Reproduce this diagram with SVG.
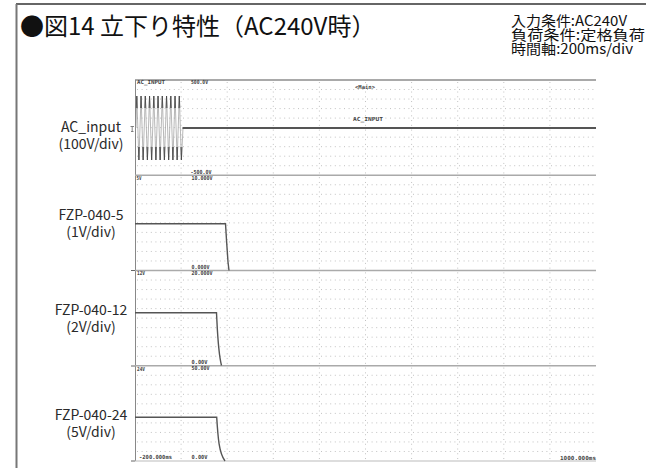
<svg xmlns="http://www.w3.org/2000/svg" width="646" height="468" viewBox="0 0 646 468">
<style>
.jp{font-family:"Noto Sans CJK JP","Noto Sans",sans-serif;fill:#111}
.cond{font-family:"Noto Sans CJK JP","Noto Sans",sans-serif;fill:#111;font-size:14px}
.lbl{font-family:"Noto Sans CJK JP","Noto Sans",sans-serif;font-size:14px;fill:#2a2a2a;text-anchor:middle}
.sc{font-family:"DejaVu Sans Mono","Liberation Mono",monospace;font-size:5.6px;font-weight:bold;fill:#444}
.grid{fill:none;stroke:#c2c2c2;stroke-width:1}
.sep{stroke:#aaa;stroke-width:1.6;fill:none}
.tr{fill:none;stroke:#555;stroke-width:1.4}
</style>
<rect width="646" height="468" fill="#fff"/>
<g id="frame">
<line x1="16" y1="4" x2="646" y2="4" stroke="#333" stroke-width="1.5"/>
<line x1="16.5" y1="4" x2="16.5" y2="468" stroke="#777" stroke-width="2"/>
</g>
<g id="title">
<text class="jp" x="20" y="35" font-size="24">●図14 立下り特性（AC240V時）</text>
</g>
<g id="conditions">
<text class="cond" x="511" y="26" textLength="116" lengthAdjust="spacingAndGlyphs">入力条件:AC240V</text>
<text class="cond" x="511" y="40" textLength="134" lengthAdjust="spacingAndGlyphs">負荷条件:定格負荷</text>
<text class="cond" x="511" y="54" textLength="122" lengthAdjust="spacingAndGlyphs">時間軸:200ms/div</text>
</g>
<g id="labels">
<g id="label-ac"><text class="lbl" x="91" y="131.5">AC_input</text><text class="lbl" x="91" y="148.5">(100V/div)</text></g>
<g id="label-5"><text class="lbl" x="91" y="220">FZP-040-5</text><text class="lbl" x="91" y="236.5">(1V/div)</text></g>
<g id="label-12"><text class="lbl" x="91" y="315">FZP-040-12</text><text class="lbl" x="91" y="331.5">(2V/div)</text></g>
<g id="label-24"><text class="lbl" x="91" y="420">FZP-040-24</text><text class="lbl" x="91" y="436.5">(5V/div)</text></g>
</g>
<g id="scope">
<path class="grid" stroke-dasharray="1 3.6" d="M137,89.53H594M137,99.05H594M137,108.58H594M137,118.1H594M137,127.63H594M137,137.15H594M137,146.68H594M137,156.2H594M137,165.73H594M137,184.78H594M137,194.3H594M137,203.83H594M137,213.35H594M137,222.88H594M137,232.4H594M137,241.93H594M137,251.45H594M137,260.98H594M137,280.03H594M137,289.55H594M137,299.08H594M137,308.6H594M137,318.13H594M137,327.65H594M137,337.18H594M137,346.7H594M137,356.23H594M137,375.28H594M137,384.8H594M137,394.33H594M137,403.85H594M137,413.38H594M137,422.9H594M137,432.43H594M137,441.95H594M137,451.48H594"/>
<path class="grid" stroke-dasharray="1 3.76" stroke-width="1.3" d="M181.1,82V460M227.2,82V460M273.3,82V460M319.4,82V460M365.5,82V460M411.6,82V460M457.7,82V460M503.8,82V460M549.9,82V460"/>
<line x1="135" y1="80" x2="596" y2="80" stroke="#555" stroke-width="1.2"/>
<line x1="135.5" y1="80" x2="135.5" y2="461" stroke="#888" stroke-width="1"/>
<path class="sep" d="M135,175.25H596M135,270.5H596M135,365.75H596"/>
<line x1="135" y1="461" x2="596" y2="461" stroke="#bbb" stroke-width="1.2"/>
<path d="M131,270.5H135M131,366H135M131,461H135" stroke="#666" stroke-width="1"/>
<path d="M130.5,126.5H134M132.2,126.5V131.5M131,131.5H133.5" stroke="#666" stroke-width="0.8" fill="none"/>
<g id="trace-ac">
<path fill="none" stroke="#9a9a9a" stroke-width="0.7" d="M136,128L136.8,96L138.9,160L141.05,96L143.15,160L145.3,96L147.4,160L149.55,96L151.65,160L153.8,96L155.9,160L158.05,96L160.15,160L162.3,96L164.4,160L166.55,96L168.65,160L170.8,96L172.9,160L175.05,96L177.15,160L179.3,96L181.4,160L183,128"/>
<path fill="none" stroke="#444" stroke-width="0.8" d="M136.3,108L136.8,96L137.3,108M140.55,108L141.05,96L141.55,108M144.8,108L145.3,96L145.8,108M149.05,108L149.55,96L150.05,108M153.3,108L153.8,96L154.3,108M157.55,108L158.05,96L158.55,108M161.8,108L162.3,96L162.8,108M166.05,108L166.55,96L167.05,108M170.3,108L170.8,96L171.3,108M174.55,108L175.05,96L175.55,108M178.8,108L179.3,96L179.8,108M138.4,147L138.9,160L139.4,147M142.65,147L143.15,160L143.65,147M146.9,147L147.4,160L147.9,147M151.15,147L151.65,160L152.15,147M155.4,147L155.9,160L156.4,147M159.65,147L160.15,160L160.65,147M163.9,147L164.4,160L164.9,147M168.15,147L168.65,160L169.15,147M172.4,147L172.9,160L173.4,147M176.65,147L177.15,160L177.65,147M180.9,147L181.4,160L181.9,147"/>
<path fill="none" stroke="#555" stroke-width="1.8" d="M182.5,128H596"/>
</g>
<g id="trace-5"><path class="tr" d="M135,223.8H225.5L226.5,240L228,262L229,270.5"/></g>
<g id="trace-12"><path class="tr" d="M135,312.7H216.5C217.5,332 218,352 221.5,365.5"/></g>
<g id="trace-24"><path class="tr" d="M135,417.3H216.7C218,438 219,453 225,461"/></g>
<g id="scope-text">
<text class="sc" x="137" y="83.5" textLength="28" lengthAdjust="spacingAndGlyphs">AC_INPUT</text>
<text class="sc" x="191" y="83.5" textLength="17" lengthAdjust="spacingAndGlyphs">500.0V</text>
<text class="sc" x="355" y="89" textLength="20" lengthAdjust="spacingAndGlyphs">&lt;Main&gt;</text>
<text class="sc" x="353" y="121" textLength="30" lengthAdjust="spacingAndGlyphs">AC_INPUT</text>
<text class="sc" x="190.5" y="174" textLength="21" lengthAdjust="spacingAndGlyphs">-500.0V</text>
<text class="sc" x="191.5" y="179.5" textLength="21" lengthAdjust="spacingAndGlyphs">10.000V</text>
<text class="sc" x="136.5" y="179.5" textLength="5" lengthAdjust="spacingAndGlyphs">5V</text>
<text class="sc" x="191.5" y="268.5" textLength="18" lengthAdjust="spacingAndGlyphs">0.000V</text>
<text class="sc" x="191.5" y="274.5" textLength="21" lengthAdjust="spacingAndGlyphs">20.000V</text>
<text class="sc" x="137" y="275" textLength="8" lengthAdjust="spacingAndGlyphs">12V</text>
<text class="sc" x="191.5" y="364" textLength="16" lengthAdjust="spacingAndGlyphs">0.00V</text>
<text class="sc" x="191.5" y="370" textLength="18" lengthAdjust="spacingAndGlyphs">50.00V</text>
<text class="sc" x="137" y="370.5" textLength="8" lengthAdjust="spacingAndGlyphs">24V</text>
<text class="sc" x="139" y="459" textLength="33" lengthAdjust="spacingAndGlyphs">-200.000ms</text>
<text class="sc" x="191.5" y="459" textLength="16" lengthAdjust="spacingAndGlyphs">0.00V</text>
<text class="sc" x="560" y="460" textLength="36" lengthAdjust="spacingAndGlyphs">1000.000ms</text>
</g>
</g>
</svg>
